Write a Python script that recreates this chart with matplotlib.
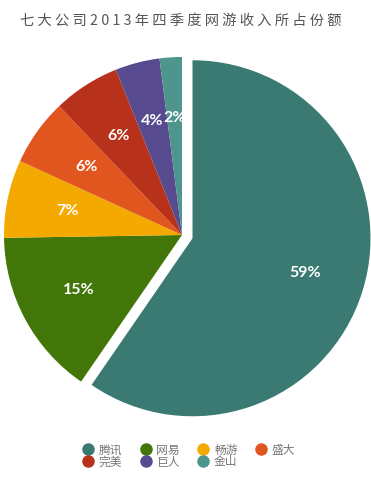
import matplotlib.pyplot as plt
from matplotlib.lines import Line2D

# data, clockwise from 12 o'clock
companies = ['腾讯', '网易', '畅游', '盛大', '完美', '巨人', '金山']
shares = [59, 15, 7, 6, 6, 4, 2]
colors = ['#3b7a73', '#437608', '#f4a900', '#e1561f', '#b8311a', '#574a8e', '#4d958d']
title = '七大公司2013年四季度网游收入所占份额'

plt.rcParams['font.family'] = ['Noto Sans CJK SC', 'DejaVu Sans']

fig = plt.figure(figsize=(3.71, 5.0), dpi=100)
fig.set_facecolor('white')
ax = fig.add_axes([0, 0, 1, 1])

# explode is in data units (pixels here)
explode = [11] + [0] * (len(shares) - 1)
wedges, texts, autotexts = ax.pie(
    shares, colors=colors, explode=explode, startangle=90, counterclock=False,
    center=(182, 265), radius=178, autopct='%1.0f%%', pctdistance=0.66,
    wedgeprops=dict(linewidth=0), normalize=True, frame=True)
ax.set_xlim(0, 371)
ax.set_ylim(0, 500)
ax.set_aspect('equal')
ax.axis('off')

for t, v in zip(autotexts, shares):
    t.set_text(f'{v}%')
    t.set_color('white')
    t.set_fontsize(11.5)
    t.set_fontfamily(['Lato', 'DejaVu Sans'])
    t.set_fontweight('bold')

# title with loose letter spacing
fig.text(0.487, 0.958, ' '.join(title), ha='center', va='center',
         fontsize=10.3, color='#555555')

# legend, two rows
handles = [Line2D([], [], marker='o', linestyle='none', markersize=9,
                  markerfacecolor=c, markeredgewidth=0) for c in colors]
order = [0, 4, 1, 5, 2, 6, 3]
leg = fig.legend([handles[i] for i in order], [companies[i] for i in order],
                 ncol=4, loc='center', bbox_to_anchor=(0.51, 0.088),
                 frameon=False, fontsize=8.5, labelcolor='#777777',
                 handlelength=0.8, handletextpad=0.5, columnspacing=1.6,
                 labelspacing=-0.1, borderpad=0)

fig.savefig('out.png', dpi=100)
